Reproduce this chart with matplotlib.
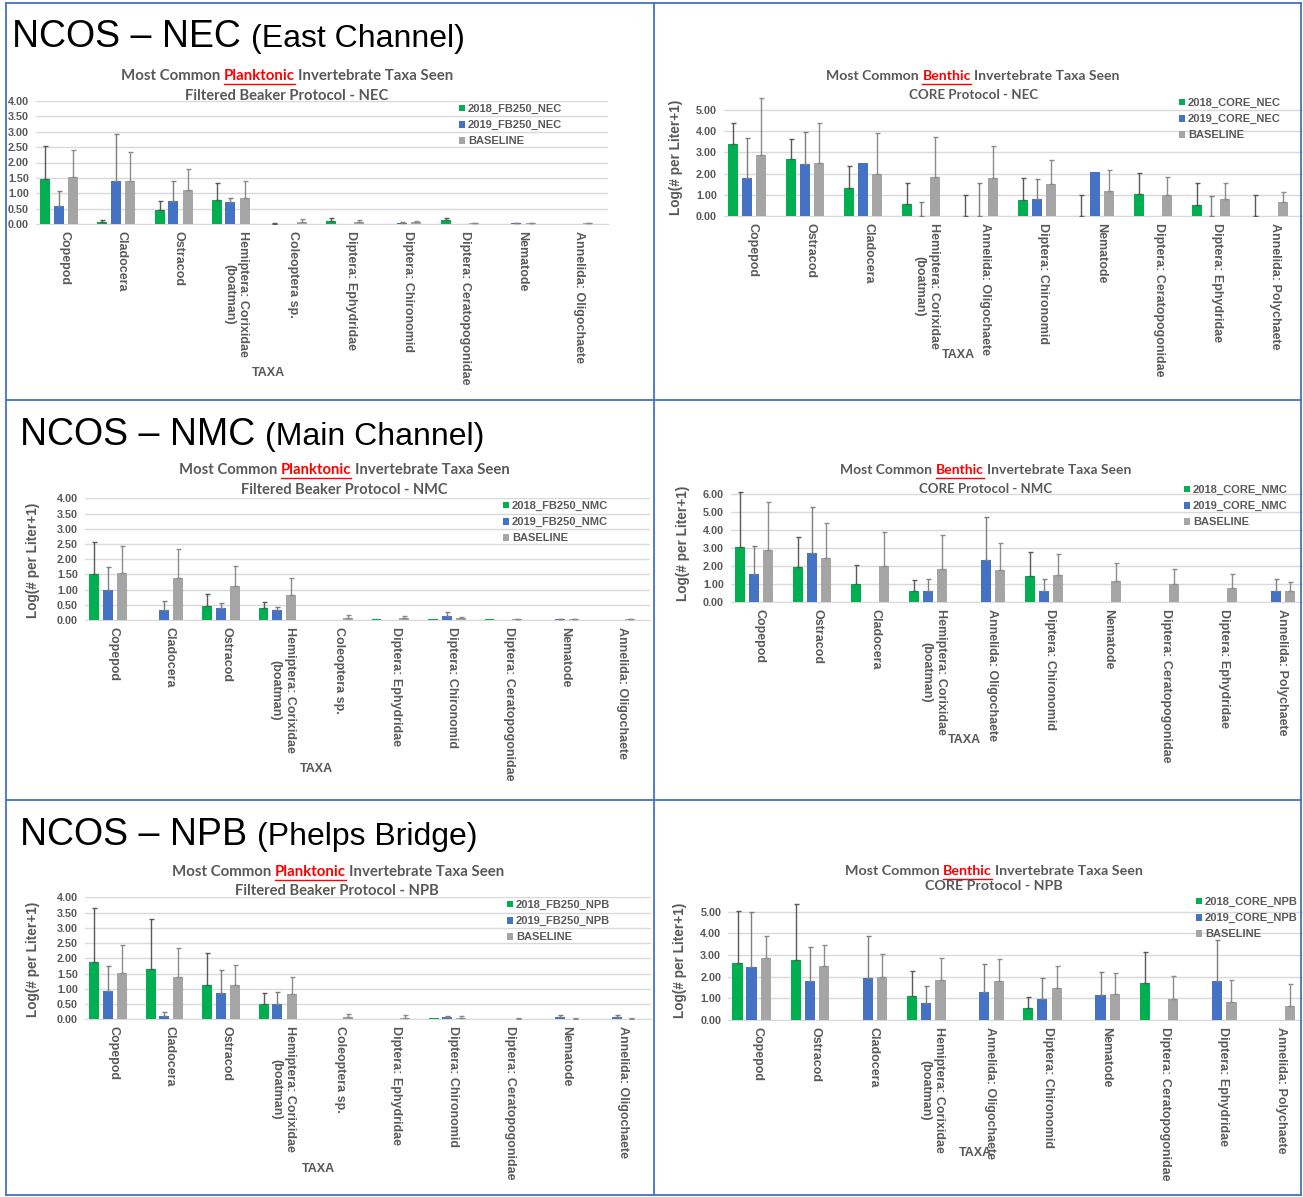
import numpy as np
import matplotlib
matplotlib.use("Agg")
import matplotlib.pyplot as plt
from matplotlib.lines import Line2D

W, H = 1303, 1197

# ---- data (log(# per liter + 1), error = upper bar length) ----
plank_taxa = ["Copepod", "Cladocera", "Ostracod", "Hemiptera: Corixidae\n(boatman)",
              "Coleoptera sp.", "Diptera: Ephydridae", "Diptera: Chironomid",
              "Diptera: Ceratopogonidae", "Nematode", "Annelida: Oligochaete"]
benth_taxa = ["Copepod", "Ostracod", "Cladocera", "Hemiptera: Corixidae\n(boatman)",
              "Annelida: Oligochaete", "Diptera: Chironomid", "Nematode",
              "Diptera: Ceratopogonidae", "Diptera: Ephydridae", "Annelida: Polychaete"]

plank_base = [1.53, 1.39, 1.12, 0.83, 0.08, 0.05, 0.05, 0.02, 0.02, 0.02]
plank_base_err = [0.89, 0.94, 0.67, 0.56, 0.09, 0.09, 0.05, 0.02, 0.01, 0.02]

nec_fb_2018 = [1.45, 0.08, 0.45, 0.77, 0.01, 0.10, 0.00, 0.12, 0.00, 0.00]
nec_fb_2018_err = [1.10, 0.04, 0.30, 0.56, 0.01, 0.08, 0.00, 0.08, 0.00, 0.00]
nec_fb_2019 = [0.57, 1.40, 0.75, 0.70, 0.00, 0.00, 0.03, 0.01, 0.02, 0.00]
nec_fb_2019_err = [0.51, 1.53, 0.65, 0.13, 0.00, 0.00, 0.02, 0.00, 0.01, 0.00]

nmc_fb_2018 = [1.50, 0.00, 0.47, 0.41, 0.01, 0.03, 0.02, 0.02, 0.00, 0.00]
nmc_fb_2018_err = [1.08, 0.00, 0.37, 0.19, 0.00, 0.00, 0.00, 0.00, 0.00, 0.00]
nmc_fb_2019 = [0.99, 0.32, 0.38, 0.32, 0.00, 0.00, 0.12, 0.00, 0.02, 0.00]
nmc_fb_2019_err = [0.76, 0.30, 0.17, 0.12, 0.00, 0.00, 0.14, 0.00, 0.01, 0.00]

npb_fb_2018 = [1.87, 1.64, 1.13, 0.51, 0.00, 0.00, 0.03, 0.02, 0.00, 0.00]
npb_fb_2018_err = [1.79, 1.65, 1.06, 0.34, 0.00, 0.00, 0.00, 0.00, 0.00, 0.00]
npb_fb_2019 = [0.93, 0.11, 0.87, 0.51, 0.00, 0.01, 0.08, 0.00, 0.07, 0.07]
npb_fb_2019_err = [0.82, 0.12, 0.75, 0.38, 0.00, 0.00, 0.04, 0.00, 0.08, 0.08]

benth_base = [2.88, 2.48, 2.00, 1.84, 1.81, 1.49, 1.18, 0.99, 0.81, 0.64]
benth_base_err = [2.67, 1.90, 1.90, 1.88, 1.49, 1.17, 1.01, 0.85, 0.75, 0.51]
npb_base_err = [1.01, 0.98, 1.03, 1.01, 0.99, 0.99, 1.00, 1.06, 1.02, 1.02]

nec_core_2018 = [3.38, 2.68, 1.33, 0.55, 0.00, 0.77, 0.00, 1.04, 0.53, 0.00]
nec_core_2018_err = [1.02, 0.97, 1.02, 1.03, 1.00, 1.04, 0.97, 0.99, 1.04, 0.97]
nec_core_2019 = [1.80, 2.43, 2.50, 0.00, 0.00, 0.80, 2.09, 0.00, 0.00, 0.00]
nec_core_2019_err = [1.90, 1.55, 0.00, 0.68, 1.55, 0.96, 0.00, 0.00, 0.94, 0.00]

nmc_core_2018 = [3.05, 1.97, 1.01, 0.63, 0.00, 1.48, 0.00, 0.00, 0.00, 0.00]
nmc_core_2018_err = [3.04, 1.63, 1.06, 0.61, 0.00, 1.31, 0.00, 0.00, 0.00, 0.00]
nmc_core_2019 = [1.57, 2.71, 0.00, 0.63, 2.34, 0.65, 0.00, 0.00, 0.00, 0.65]
nmc_core_2019_err = [1.57, 2.55, 0.00, 0.66, 2.40, 0.64, 0.00, 0.00, 0.00, 0.64]

npb_core_2018 = [2.62, 2.77, 0.00, 1.12, 0.00, 0.54, 0.00, 1.69, 0.00, 0.00]
npb_core_2018_err = [2.43, 2.61, 0.00, 1.14, 0.00, 0.54, 0.00, 1.46, 0.00, 0.00]
npb_core_2019 = [2.43, 1.82, 1.92, 0.78, 1.28, 0.95, 1.15, 0.00, 1.80, 0.00]
npb_core_2019_err = [2.54, 1.56, 1.96, 0.80, 1.32, 0.97, 1.07, 0.00, 1.89, 0.00]

GREEN, BLUE, GRAY = "#00B050", "#4472C4", "#A5A5A5"
TXT = "#595959"
ARIAL = "Liberation Sans"
TFONT = "Lato"

fig = plt.figure(figsize=(W / 100, H / 100), dpi=100)
fig.patch.set_facecolor("white")
renderer = fig.canvas.get_renderer()


def fx(x):
    return x / W


def fy(y):
    return 1 - y / H


def text_w(t):
    return t.get_window_extent(renderer).width


def title_line(cx, cy, parts, target_w):
    # several coloured pieces on one line, scaled so the line is target_w px wide
    def build(size):
        ts = [fig.text(0, fy(cy), s, color=c, fontsize=size, fontweight="bold",
                       family=TFONT, va="center", ha="left") for s, c, _ in parts]
        a = fig.text(0, 0, "a a", fontsize=size, fontweight="bold", family=TFONT)
        b = fig.text(0, 0, "aa", fontsize=size, fontweight="bold", family=TFONT)
        sp = text_w(a) - text_w(b)
        a.remove(); b.remove()
        ws = [text_w(t) for t in ts]
        return ts, ws, sp
    ts, ws, sp = build(10)
    total = sum(ws) + sp * (len(ts) - 1)
    for t in ts:
        t.remove()
    ts, ws, sp = build(10 * target_w / total)
    total = sum(ws) + sp * (len(ts) - 1)
    x = cx - total / 2
    for t, w, (_, c, ul) in zip(ts, ws, parts):
        t.set_x(fx(x))
        if ul:
            fig.add_artist(Line2D([fx(x), fx(x + w)], [fy(cy + 8), fy(cy + 8)],
                                  color=c, lw=1.0, transform=fig.transFigure))
        x += w + sp


def panel(box, ymax, ystep, taxa, series, errs, names, word, subtitle, t1, t2,
          leg_xy, ylab_xy, taxa_xy):
    left, right, top, zero = box
    ax = fig.add_axes([fx(left), fy(zero), (right - left) / W, (zero - top) / H])
    x = np.arange(len(taxa))
    offs = [-0.34, -0.10, 0.15]
    cols = [GREEN, BLUE, GRAY]
    ecols = ["#595959", "#7F7F7F", "#8C8C8C"]
    handles = []
    for vals, err, off, c, ec in zip(series, errs, offs, cols, ecols):
        vals = np.array(vals)
        err = np.array(err)
        h = ax.bar(x + off, vals, width=0.175, color=c, zorder=3)
        handles.append(h)
        m = err > 0
        if m.any():
            ax.errorbar(x[m] + off, vals[m], yerr=[np.zeros(m.sum()), err[m]],
                        fmt="none", ecolor=ec, elinewidth=1.0, capsize=1.8,
                        capthick=1.0, zorder=4)
    ax.set_xlim(-0.5, len(taxa) - 0.5)
    ax.set_ylim(0, ymax)
    ax.set_yticks(np.arange(0, ymax + 1e-6, ystep))
    ax.yaxis.set_major_formatter(matplotlib.ticker.FormatStrFormatter("%.2f"))
    ax.grid(axis="y", color="#D9D9D9", lw=1.0, zorder=0)
    ax.set_axisbelow(True)
    for s in ["left", "right", "top"]:
        ax.spines[s].set_visible(False)
    ax.spines["bottom"].set_color("#D9D9D9")
    ax.set_xticks(x)
    ax.set_xticklabels(taxa, rotation=-90, fontsize=9, fontweight="bold",
                       family=ARIAL, color=TXT)
    ax.tick_params(axis="x", length=0, pad=5)
    ax.tick_params(axis="y", length=0, pad=5, labelsize=7.8, labelcolor=TXT)
    for lab in ax.get_yticklabels():
        lab.set_fontweight("bold")
        lab.set_family(ARIAL)
    ax.patch.set_alpha(0)
    ax.legend(handles, names, loc="upper left",
              bbox_to_anchor=(fx(leg_xy[0]), fy(leg_xy[1])),
              bbox_transform=fig.transFigure, frameon=False,
              handlelength=0.55, handleheight=0.55, handletextpad=0.25,
              labelspacing=0.55, borderpad=0, borderaxespad=0,
              prop={"family": ARIAL, "weight": "bold", "size": 8},
              labelcolor=TXT)
    title_line(t1[0], t1[1], [("Most Common", TXT, False), (word, "#FF0000", True),
                              ("Invertebrate Taxa Seen", TXT, False)], t1[2])
    title_line(t2[0], t2[1], [(subtitle, TXT, False)], t2[2])
    if ylab_xy is not None:
        fig.text(fx(ylab_xy[0]), fy(ylab_xy[1]), "Log(# per Liter+1)", rotation=90,
                 ha="center", va="center", fontsize=9.8, fontweight="bold",
                 family=ARIAL, color=TXT)
    fig.text(fx(taxa_xy[0]), fy(taxa_xy[1]), "TAXA", ha="center", va="center",
             fontsize=9, fontweight="bold", family=ARIAL, color=TXT)
    return ax


# NEC
panel((36, 608, 101, 224), 4.0, 0.5, plank_taxa,
      [nec_fb_2018, nec_fb_2019, plank_base],
      [nec_fb_2018_err, nec_fb_2019_err, plank_base_err],
      ["2018_FB250_NEC", "2019_FB250_NEC", "BASELINE"], "Planktonic",
      "Filtered Beaker Protocol - NEC", (287, 76, 335), (287, 96, 204),
      (459, 104), None, (268, 373))
panel((723.7, 1303.7, 97.3, 216), 5.6, 1.0, benth_taxa,
      [nec_core_2018, nec_core_2019, benth_base],
      [nec_core_2018_err, nec_core_2019_err, benth_base_err],
      ["2018_CORE_NEC", "2019_CORE_NEC", "BASELINE"], "Benthic",
      "CORE Protocol - NEC", (973, 76, 293), (974, 95, 128),
      (1179, 98), (676, 157), (958, 355))

# NMC
panel((85, 650, 498.3, 620), 4.0, 0.5, plank_taxa,
      [nmc_fb_2018, nmc_fb_2019, plank_base],
      [nmc_fb_2018_err, nmc_fb_2019_err, plank_base_err],
      ["2018_FB250_NMC", "2019_FB250_NMC", "BASELINE"], "Planktonic",
      "Filtered Beaker Protocol - NMC", (344, 470, 332), (344, 490, 208),
      (503, 501), (33, 560), (316, 769))
panel((730.7, 1310.7, 491.3, 602.3), 6.15, 1.0, benth_taxa,
      [nmc_core_2018, nmc_core_2019, benth_base],
      [nmc_core_2018_err, nmc_core_2019_err, benth_base_err],
      ["2018_CORE_NMC", "2019_CORE_NMC", "BASELINE"], "Benthic",
      "CORE Protocol - NMC", (986, 470, 291), (986, 489, 132),
      (1184, 485), (683, 543), (964, 740))

# NPB
panel((85, 651, 897.3, 1019.3), 4.0, 0.5, plank_taxa,
      [npb_fb_2018, npb_fb_2019, plank_base],
      [npb_fb_2018_err, npb_fb_2019_err, plank_base_err],
      ["2018_FB250_NPB", "2019_FB250_NPB", "BASELINE"], "Planktonic",
      "Filtered Beaker Protocol - NPB", (338, 872, 334), (337, 891, 205),
      (507, 900), (33, 959), (318, 1169))
panel((728.2, 1310, 902, 1020), 5.45, 1.0, benth_taxa,
      [npb_core_2018, npb_core_2019, benth_base],
      [npb_core_2018_err, npb_core_2019_err, npb_base_err],
      ["2018_CORE_NPB", "2019_CORE_NPB", "BASELINE"], "Benthic",
      "CORE Protocol - NPB", (994, 871, 298), (994, 886, 138),
      (1196, 897), (680, 960), (975, 1153))

# site headers
for x0, base_y, site, name in [(12, 47, "NCOS \u2013 NEC", "(East Channel)"),
                               (20, 445, "NCOS \u2013 NMC", "(Main Channel)"),
                               (20, 845, "NCOS \u2013 NPB", "(Phelps Bridge)")]:
    t = fig.text(fx(x0), fy(base_y), site, fontsize=27, family=ARIAL,
                 va="baseline", ha="left", color="black")
    w = text_w(t)
    fig.text(fx(x0 + w + 10), fy(base_y), name, fontsize=23, family=ARIAL,
             va="baseline", ha="left", color="black")

# table cell borders
for xv in (6, 654, 1301):
    fig.add_artist(Line2D([fx(xv), fx(xv)], [fy(3), fy(1195)], color="#4472C4",
                          lw=1.3, transform=fig.transFigure, zorder=10))
for yv in (3, 400, 800, 1195):
    fig.add_artist(Line2D([fx(6), fx(1301)], [fy(yv), fy(yv)], color="#4472C4",
                          lw=1.3, transform=fig.transFigure, zorder=10))

fig.savefig("out.png", dpi=100)
